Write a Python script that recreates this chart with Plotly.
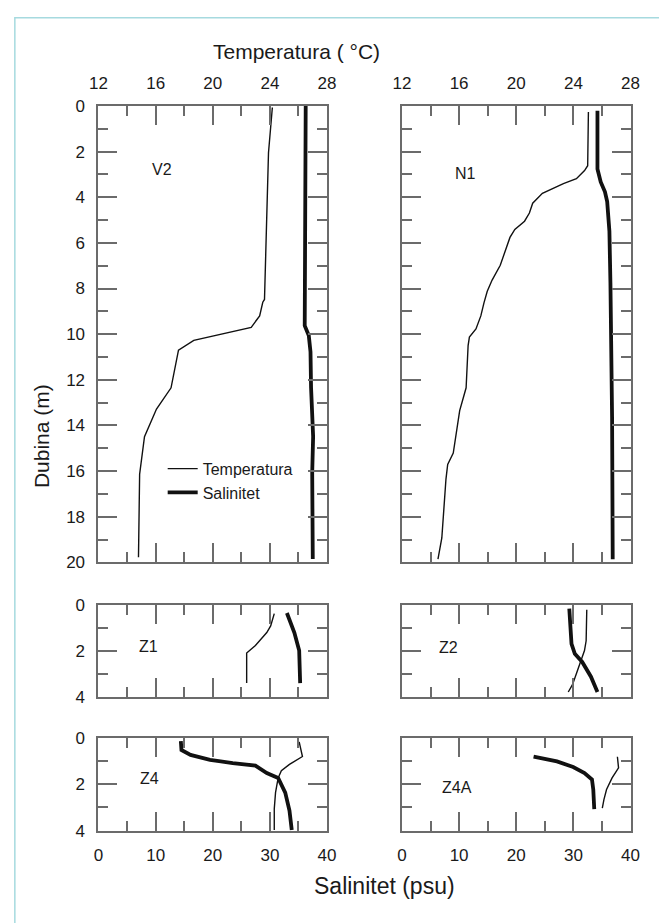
import plotly.graph_objects as go

W, H = 659, 923

# ---------------- data ----------------
# V2 station
v2_temp_depth = [0.07, 0.76, 2.05, 8.48, 8.6, 9.2, 9.7, 10.27, 10.7, 12.35, 13.28, 14.49, 15.35, 16.14, 19.78]
v2_temp = [24.17, 24.07, 23.9, 23.62, 23.5, 23.28, 22.69, 18.67, 17.6, 17.08, 16.06, 15.22, 15.04, 14.88, 14.8]
v2_sal_depth = [0.0, 9.63, 10.06, 10.77, 12.35, 14.49, 16.06, 19.85]
v2_sal = [36.26, 36.09, 36.8, 37.1, 37.2, 37.56, 37.4, 37.5]

# N1 station
n1_temp_depth = [0.26, 2.62, 2.83, 3.19, 3.4, 3.62, 3.83, 4.26, 4.69, 5.05, 5.41, 5.76, 6.34, 6.98,
                 7.63, 8.12, 8.63, 9.2, 9.77, 10.13, 10.5, 12.35, 13.35, 14.35, 15.21, 15.71, 16.35, 18.93, 19.86]
n1_temp = [25.05, 25.0, 24.78, 24.21, 23.3, 22.51, 21.83, 21.15, 20.92, 20.58, 19.9, 19.56, 19.22, 18.88,
           18.31, 17.97, 17.74, 17.52, 17.18, 16.72, 16.63, 16.49, 16.04, 15.81, 15.59, 15.2, 15.08, 14.79, 14.52]
n1_sal_depth = [0.21, 2.76, 3.33, 3.76, 4.19, 5.48, 7.77, 11.2, 13.63, 19.86]
n1_sal = [34.21, 34.21, 34.78, 35.52, 35.91, 36.3, 36.48, 36.65, 36.77, 36.88]

# Z1 station
z1_temp_depth = [0.36, 0.9, 1.19, 1.76, 2.09, 3.41]
z1_temp = [30.76, 30.13, 29.45, 27.46, 25.93, 25.93]
z1_sal_depth = [0.33, 1.19, 1.98, 3.41]
z1_sal = [32.97, 34.27, 35.12, 35.29]

# Z2 station
z2_temp_depth = [0.19, 1.55, 1.98, 2.41, 2.91, 3.48, 3.8]
z2_temp = [32.34, 32.23, 31.94, 31.38, 30.64, 29.84, 29.1]
z2_sal_depth = [0.14, 0.9, 1.69, 2.12, 2.48, 3.13, 3.8]
z2_sal = [29.28, 29.39, 29.67, 30.25, 31.54, 33.07, 34.21]

# Z4 station
z4_temp_depth = [0.18, 0.81, 1.15, 1.42, 1.73, 2.36, 3.06, 3.97]
z4_temp = [35.12, 35.69, 33.42, 32.0, 31.44, 30.98, 30.76, 30.76]
z4_sal_depth = [0.15, 0.53, 0.74, 0.95, 1.09, 1.2, 1.52, 1.73, 2.36, 3.13, 3.97]
z4_sal = [14.41, 14.52, 16.11, 19.52, 23.49, 27.46, 29.45, 31.44, 32.68, 33.42, 33.82]

# Z4A station
z4a_temp_depth = [0.82, 1.3, 1.73, 2.23, 2.65, 3.03]
z4a_temp = [37.7, 37.9, 36.77, 35.8, 35.35, 35.06]
z4a_sal_depth = [0.81, 1.02, 1.26, 1.52, 1.8, 2.23, 3.07]
z4a_sal = [23.03, 27.12, 29.96, 31.94, 33.25, 33.48, 33.65]

temp_ticks = [12, 16, 20, 24, 28]
sal_ticks = [0, 10, 20, 30, 40]

# ---------------- styling ----------------
FONT = "Liberation Sans, Arial, sans-serif"
AX = "#6b6b6b"
TXT = "#1a1a1a"
THIN = 1.4
THICK = 3.8

def px_x(p):
    return p / W

def px_y(p):
    return 1 - p / H

LEFT = [px_x(92), px_x(327)]
RIGHT = [px_x(404), px_x(639)]
TOP = [px_y(565), px_y(99)]
MID = [px_y(702), px_y(609)]
BOT = [px_y(839), px_y(744)]

fig = go.Figure()

def line(x, y, xa, ya, width, name, show=False):
    fig.add_trace(go.Scatter(x=x, y=y, xaxis=xa, yaxis=ya, mode="lines",
                             line=dict(color="#111111", width=width),
                             name=name, showlegend=show, hoverinfo="skip"))

line(v2_temp, v2_temp_depth, "x", "y", THIN, "Temperatura", True)
line(v2_sal, v2_sal_depth, "x2", "y", THICK, "Salinitet", True)
line(n1_temp, n1_temp_depth, "x3", "y2", THIN, "Temperatura")
line(n1_sal, n1_sal_depth, "x4", "y2", THICK, "Salinitet")
line(z1_temp, z1_temp_depth, "x5", "y3", THIN, "Temperatura")
line(z1_sal, z1_sal_depth, "x5", "y3", THICK, "Salinitet")
line(z2_temp, z2_temp_depth, "x6", "y4", THIN, "Temperatura")
line(z2_sal, z2_sal_depth, "x6", "y4", THICK, "Salinitet")
line(z4_temp, z4_temp_depth, "x7", "y5", THIN, "Temperatura")
line(z4_sal, z4_sal_depth, "x7", "y5", THICK, "Salinitet")
line(z4a_temp, z4a_temp_depth, "x8", "y6", THIN, "Temperatura")
line(z4a_sal, z4a_sal_depth, "x8", "y6", THICK, "Salinitet")

tickfont = dict(family=FONT, size=17, color=TXT)

def xax(domain, anchor, rng, ticks, side, labels, minor_dt):
    return dict(domain=domain, anchor=anchor, range=rng, side=side,
                tickvals=ticks, ticktext=[str(t) for t in ticks],
                showticklabels=labels, ticks="inside", ticklen=19, tickwidth=2,
                tickcolor=AX, showline=True, linecolor=AX, linewidth=2,
                mirror="ticks", showgrid=False, zeroline=False,
                tickfont=tickfont, ticklabelstandoff=8,
                minor=dict(ticks="inside", ticklen=10, tickwidth=2, tickcolor=AX,
                           dtick=minor_dt, tick0=rng[0], showgrid=False),
                fixedrange=True)

def yax(domain, anchor, rng, labels):
    return dict(domain=domain, anchor=anchor, range=rng,
                dtick=2, tick0=0, showticklabels=labels, ticks="inside",
                ticklen=19, tickwidth=2, tickcolor=AX, showline=True,
                linecolor=AX, linewidth=2, mirror="ticks", showgrid=False,
                zeroline=False, tickfont=tickfont, ticklabelstandoff=8,
                minor=dict(ticks="inside", ticklen=10, tickwidth=2, tickcolor=AX,
                           dtick=1, tick0=0, showgrid=False),
                fixedrange=True)

hidden_sal = lambda ov, anchor: dict(overlaying=ov, anchor=anchor, range=[0, 40],
                                     visible=False, fixedrange=True)

fig.update_layout(
    xaxis=xax(LEFT, "y", [12, 28], temp_ticks, "top", True, 2),
    xaxis2=hidden_sal("x", "y"),
    xaxis3=xax(RIGHT, "y2", [12, 28], temp_ticks, "top", True, 2),
    xaxis4=hidden_sal("x3", "y2"),
    xaxis5=xax(LEFT, "y3", [0, 40], sal_ticks, "bottom", False, 5),
    xaxis6=xax(RIGHT, "y4", [0, 40], sal_ticks, "bottom", False, 5),
    xaxis7=xax(LEFT, "y5", [0, 40], sal_ticks, "bottom", True, 5),
    xaxis8=xax(RIGHT, "y6", [0, 40], sal_ticks, "bottom", True, 5),
    yaxis=yax(TOP, "x", [20, 0], True),
    yaxis2=yax(TOP, "x3", [20, 0], False),
    yaxis3=yax(MID, "x5", [4, 0], True),
    yaxis4=yax(MID, "x6", [4, 0], False),
    yaxis5=yax(BOT, "x7", [4, 0], True),
    yaxis6=yax(BOT, "x8", [4, 0], False),
)

labfont = dict(family=FONT, size=16, color=TXT)
panel_labels = [("V2", "x2", "y", 11.1, 2.8), ("N1", "x4", "y2", 11.2, 2.95),
                ("Z1", "x5", "y3", 8.7, 1.8), ("Z2", "x6", "y4", 8.2, 1.85),
                ("Z4", "x7", "y5", 8.9, 1.77), ("Z4A", "x8", "y6", 9.7, 2.15)]
annotations = [dict(text=t, xref=xr, yref=yr, x=xv, y=yv, showarrow=False,
                    font=labfont, xanchor="center", yanchor="middle")
               for t, xr, yr, xv, yv in panel_labels]

annotations += [
    dict(text="Temperatura ( °C)", xref="paper", yref="paper", x=px_x(296), y=px_y(43),
         showarrow=False, font=dict(family=FONT, size=21, color=TXT),
         xanchor="center", yanchor="middle"),
    dict(text="Salinitet (psu)", xref="paper", yref="paper", x=px_x(386), y=px_y(895),
         showarrow=False, font=dict(family=FONT, size=23, color=TXT),
         xanchor="center", yanchor="middle"),
    dict(text="Dubina (m)", xref="paper", yref="paper", x=px_x(33), y=px_y(436),
         showarrow=False, textangle=-90, font=dict(family=FONT, size=21, color=TXT),
         xanchor="center", yanchor="middle"),
]

fig.update_layout(
    width=W, height=H,
    margin=dict(l=0, r=0, t=0, b=0),
    paper_bgcolor="white", plot_bgcolor="rgba(0,0,0,0)",
    annotations=annotations,
    showlegend=True,
    legend=dict(x=px_x(158), y=px_y(452), xanchor="left", yanchor="top",
                font=dict(family=FONT, size=16, color=TXT),
                bgcolor="rgba(0,0,0,0)", borderwidth=0, tracegroupgap=0),
    shapes=[dict(type="rect", xref="paper", yref="paper",
                 x0=px_x(6), x1=1.1, y0=-0.1, y1=px_y(9),
                 line=dict(color="#a6dadf", width=1.5), fillcolor="rgba(0,0,0,0)",
                 layer="below")],
)

fig.write_html("out.html", config={"displayModeBar": False},
               post_script="document.body.style.margin='0';document.body.style.overflow='hidden';")
